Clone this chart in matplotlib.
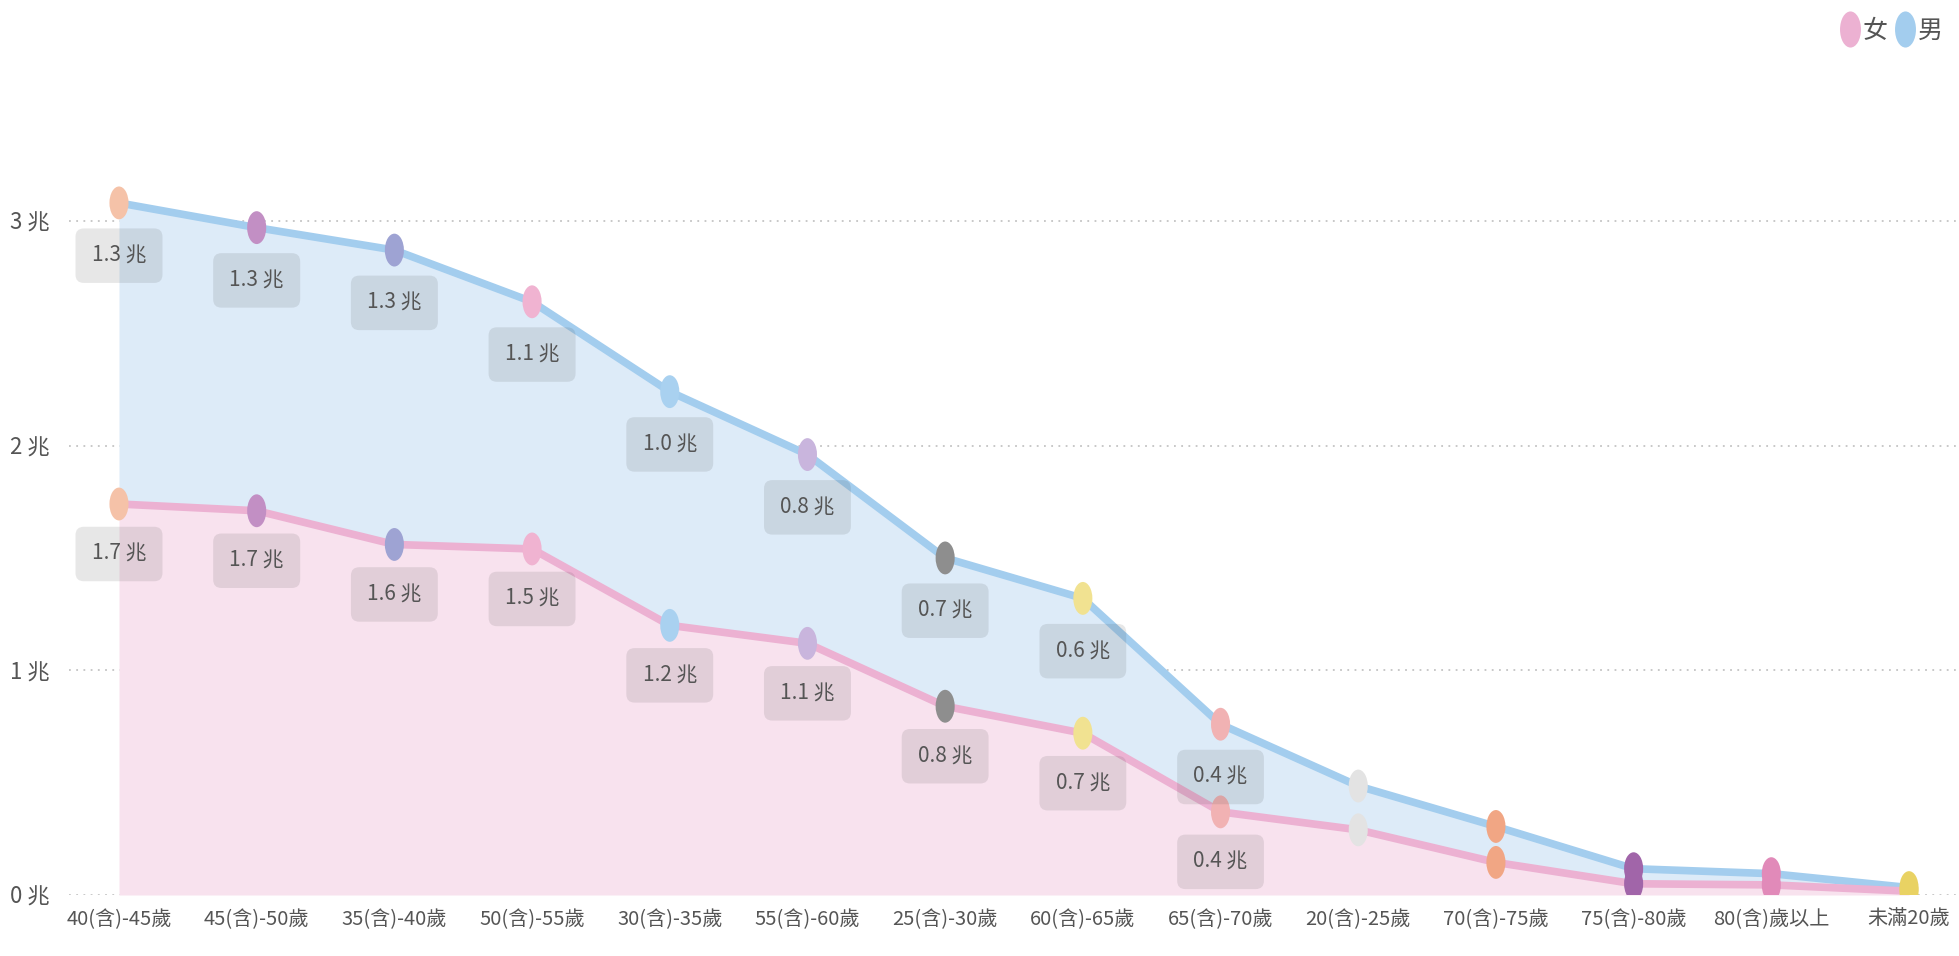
import matplotlib
matplotlib.use("Agg")
import matplotlib.pyplot as plt
import numpy as np
from matplotlib.path import Path
from matplotlib.lines import Line2D
from matplotlib import font_manager

names = sorted({f.name for f in font_manager.fontManager.ttflist})
print([n for n in names if 'Narrow' in n or 'Condensed' in n])

plt.rcParams['font.family'] = ['Noto Sans CJK TC', 'DejaVu Sans']

categories = ["40(含)-45歲", "45(含)-50歲", "35(含)-40歲", "50(含)-55歲", "30(含)-35歲",
              "55(含)-60歲", "25(含)-30歲", "60(含)-65歲", "65(含)-70歲", "20(含)-25歲",
              "70(含)-75歲", "75(含)-80歲", "80(含)歲以上", "未滿20歲"]
female = [1.74, 1.71, 1.56, 1.54, 1.20, 1.12, 0.84, 0.72, 0.37, 0.29, 0.145, 0.05, 0.045, 0.017]
male = [1.34, 1.26, 1.31, 1.10, 1.04, 0.84, 0.66, 0.60, 0.39, 0.195, 0.16, 0.067, 0.05, 0.016]
point_colors = ["#f5c2a8", "#c28fc4", "#9ea3d3", "#f0b3d1", "#a9d1f0", "#c9b5dd", "#8e8e8e",
                "#f1e291", "#f1b2b3", "#e3e3e3", "#f1a684", "#a165a9", "#e18ab9", "#e9d263"]
ytick_vals = [0, 1, 2, 3]
ytick_labels = ["0 兆", "1 兆", "2 兆", "3 兆"]
legend_names = ["女", "男"]
n_labeled = 9

BLUE_LINE = "#a3cdee"
PINK_LINE = "#ecb1d2"
BLUE_FILL = "#ddebf8"
PINK_FILL = "#f8e2ee"
TXT = "#555555"

W, H = 1959, 956
fig = plt.figure(figsize=(W / 100, H / 100), dpi=100)
left_px, bottom_px, top_px = 69, 895, 131
ax = fig.add_axes([left_px / W, (H - bottom_px) / H, 1 - left_px / W, (bottom_px - top_px) / H])

x = np.arange(len(categories))
f = np.array(female)
m = np.array(male)
top = f + m

ax.fill_between(x, 0, f, color=PINK_FILL, lw=0, zorder=1)
ax.fill_between(x, f, top, color=BLUE_FILL, lw=0, zorder=1)
ax.plot(x, top, color=BLUE_LINE, lw=5.5, zorder=3, solid_capstyle='round')
ax.plot(x, f, color=PINK_LINE, lw=5.5, zorder=3, solid_capstyle='round')

circ = Path.unit_circle()
ell = Path(circ.vertices * np.array([0.58, 1.0]), circ.codes)
ax.scatter(x, top, c=point_colors, marker=ell, s=560, lw=0, zorder=5)
ax.scatter(x, f, c=point_colors, marker=ell, s=560, lw=0, zorder=5)

box = dict(boxstyle="round,pad=0.78,rounding_size=0.4", fc=(0.25, 0.25, 0.25, 0.12), ec="none")
for i in range(n_labeled):
    ax.annotate(f"{m[i]:.1f} 兆", (x[i], top[i]), xytext=(0, -38), textcoords="offset points",
                ha="center", va="center", fontsize=15, color=TXT, bbox=box, zorder=6)
    ax.annotate(f"{f[i]:.1f} 兆", (x[i], f[i]), xytext=(0, -36), textcoords="offset points",
                ha="center", va="center", fontsize=15, color=TXT, bbox=box, zorder=6)

ax.set_xlim(-0.363, len(categories) - 1 + 0.363)
ax.set_ylim(0, 3.4)
ax.set_yticks(ytick_vals)
ax.set_yticklabels(ytick_labels, fontsize=16, color=TXT)
ax.set_xticks(x)
ax.set_xticklabels(categories, fontsize=14.5, color=TXT)
ax.tick_params(axis='both', length=0)
ax.tick_params(axis='y', pad=14)
ax.tick_params(axis='x', pad=10)
for s in ax.spines.values():
    s.set_visible(False)
for yv in ytick_vals:
    ax.axhline(yv, color="#c4c4c4", lw=1.3, ls=(0, (1, 3)), zorder=0.5)

handles = [Line2D([], [], ls='none', marker=ell, markersize=26, color=PINK_LINE, mec='none'),
           Line2D([], [], ls='none', marker=ell, markersize=26, color=BLUE_LINE, mec='none')]
fig.legend(handles, legend_names, loc="upper right", bbox_to_anchor=(1.003, 1.005), ncol=2,
           frameon=False, fontsize=18, handletextpad=0.0, columnspacing=0.2, handlelength=1.0,
           labelcolor=TXT)

fig.savefig("out.png", dpi=100, facecolor="white")
